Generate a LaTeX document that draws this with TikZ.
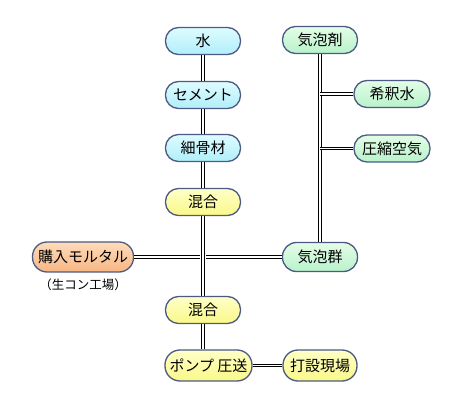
\documentclass[tikz,border=0pt]{standalone}
\usepackage{fontspec}
\newfontfamily\jp{Noto Sans CJK JP}
\definecolor{bordc}{RGB}{76,90,132}
\definecolor{cyT}{RGB}{222,252,255}
\definecolor{cyB}{RGB}{176,238,250}
\definecolor{grT}{RGB}{228,253,230}
\definecolor{grB}{RGB}{184,242,204}
\definecolor{yeT}{RGB}{255,255,200}
\definecolor{yeB}{RGB}{250,248,136}
\definecolor{orT}{RGB}{255,220,186}
\definecolor{orB}{RGB}{246,182,132}
\tikzset{
  box/.style={rectangle, rounded corners=13pt, draw=bordc, line width=1.3pt,
    minimum width=75pt, minimum height=27pt, inner sep=0pt,
    font=\jp\fontsize{15}{17}\selectfont},
  cyanbox/.style={box, top color=cyT, bottom color=cyB},
  greenbox/.style={box, top color=grT, bottom color=grB},
  yellowbox/.style={box, top color=yeT, bottom color=yeB},
  orangebox/.style={box, top color=orT, bottom color=orB},
  dbl/.style={draw=black, double=white, double distance=1.7pt, line width=1pt},
  gapline/.style={dbl, preaction={draw=white, line width=6pt}},
  note/.style={font=\jp\fontsize{12.5}{14}\selectfont, inner sep=0pt}
}
\begin{document}
\begin{tikzpicture}[x=1pt, y=-1pt]
\useasboundingbox (0,0) rectangle (469,406);
\fill[white] (0,0) rectangle (469,406);
% nodes
\node[cyanbox] (w) at (203,41) {水};
\node[cyanbox] (cem) at (203,95) {セメント};
\node[cyanbox] (sand) at (203,148) {細骨材};
\node[yellowbox] (mixa) at (203,202) {混合};
\node[orangebox, minimum width=101pt, minimum height=30pt, rounded corners=14.5pt] (buy) at (83,257) {購入モルタル};
\node[note] (plant) at (83,285) {（生コン工場）};
\node[greenbox, minimum height=29pt, rounded corners=14pt] (foam) at (320,257) {気泡群};
\node[yellowbox] (mixb) at (203,310) {混合};
\node[yellowbox, minimum width=87pt, minimum height=31pt, rounded corners=15pt] (pump) at (208.5,365.5) {ポンプ 圧送};
\node[yellowbox, minimum width=74pt, minimum height=31pt, rounded corners=15pt] (site) at (320,365.5) {打設現場};
\node[greenbox] (agent) at (320,40) {気泡剤};
\node[greenbox, minimum width=76pt] (dil) at (392,94) {希釈水};
\node[greenbox, minimum width=76pt] (air) at (392,148.5) {圧縮空気};
% connectors
\path[dbl] (w) -- (cem);
\path[dbl] (cem) -- (sand);
\path[dbl] (sand) -- (mixa);
\path[dbl] (buy) -- (foam);
\path[gapline] (mixa) -- (mixb);
\path[dbl] (mixb.south) -- (mixb.south |- pump.north);
\path[dbl] (pump) -- (site);
\path[dbl] (agent) -- (foam);
\path[dbl] (dil.west) -- (dil.west -| agent);
\path[dbl] (air.west) -- (air.west -| agent);
\end{tikzpicture}
\end{document}
